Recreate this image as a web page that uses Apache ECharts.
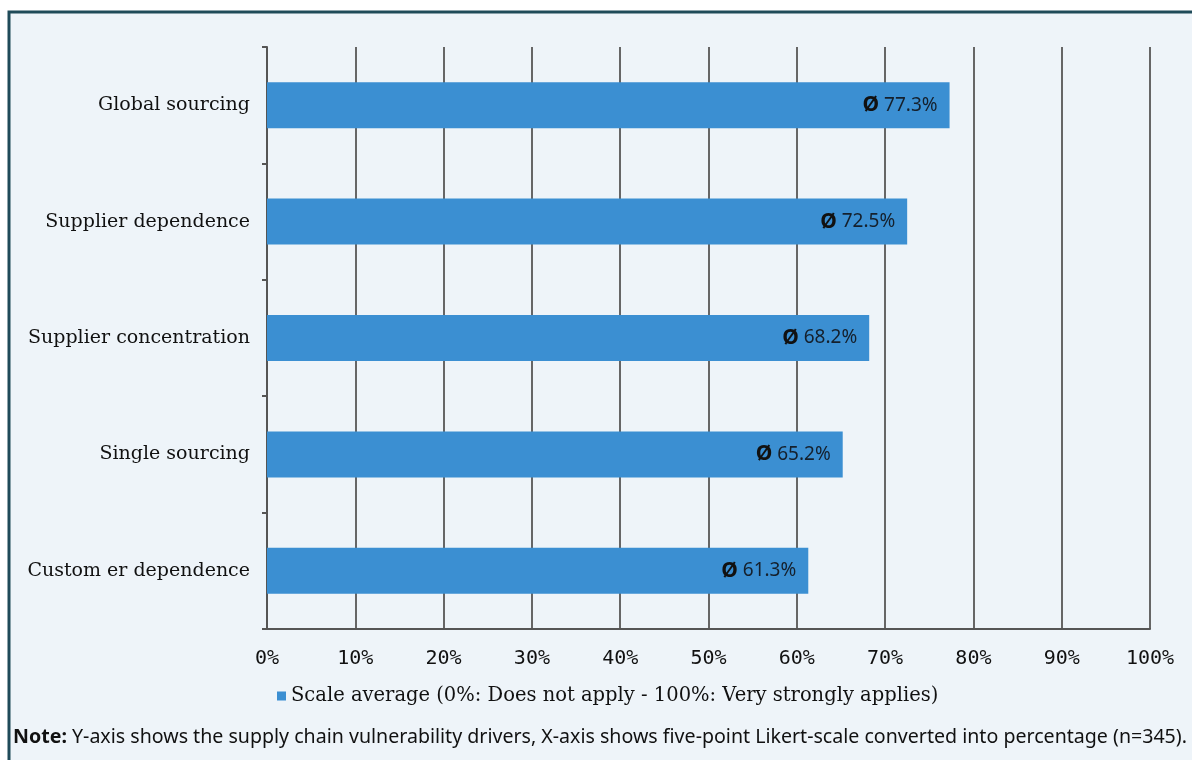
<!DOCTYPE html>
<html>
<head>
<meta charset="utf-8">
<script src="https://cdn.jsdelivr.net/npm/echarts@6/dist/echarts.min.js"></script>
<style>
  html, body { margin: 0; padding: 0; background: #ffffff; }
  #chart { width: 1192px; height: 760px; }
</style>
</head>
<body>
<div id="chart"></div>
<script>
// categories, top to bottom
var drivers = ['Global sourcing', 'Supplier dependence', 'Supplier concentration', 'Single sourcing', 'Custom er dependence'];
var scaleAverage = [77.3, 72.5, 68.2, 65.2, 61.3];
var xTicks = [0, 10, 20, 30, 40, 50, 60, 70, 80, 90, 100];
var legendName = 'Scale average (0%: Does not apply - 100%: Very strongly applies)';
var noteText = 'Y-axis shows the supply chain vulnerability drivers, X-axis shows five-point Likert-scale converted into percentage (n=345).';

var chart = echarts.init(document.getElementById('chart'));

chart.setOption({
  backgroundColor: '#ffffff',
  animation: false,
  graphic: [
    {
      // panel box with dark frame
      type: 'rect',
      z: -10,
      silent: true,
      shape: { x: 9, y: 12, width: 1195, height: 760 },
      style: { fill: '#eef4f9', stroke: '#1f4b59', lineWidth: 3 }
    },
    {
      type: 'text',
      left: 13,
      top: 727,
      style: {
        text: '{b|Note:} ' + noteText,
        rich: {
          b: { fontWeight: 'bold', fontFamily: 'Noto Sans', fontSize: 19.6, fill: '#111' }
        },
        fontFamily: 'Noto Sans',
        fontSize: 19.6,
        fill: '#111'
      }
    }
  ],
  legend: {
    data: [legendName],
    left: 272,
    top: 681,
    icon: 'rect',
    itemWidth: 9,
    itemHeight: 9,
    itemGap: 4,
    textStyle: { fontFamily: 'DejaVu Serif', fontSize: 19.5, color: '#111' }
  },
  grid: {
    left: 267,
    right: 42,
    top: 47,
    bottom: 131
  },
  xAxis: {
    type: 'value',
    min: xTicks[0],
    max: xTicks[xTicks.length - 1],
    interval: 10,
    axisLine: { show: true, lineStyle: { color: '#555', width: 2 } },
    axisTick: { show: false },
    axisLabel: {
      margin: 20,
      fontFamily: 'DejaVu Sans Mono',
      fontSize: 20,
      color: '#111',
      formatter: function (v) { return v + '%'; }
    },
    splitLine: { show: true, lineStyle: { color: '#666', width: 2 } }
  },
  yAxis: {
    type: 'category',
    inverse: true,
    data: drivers,
    axisLine: { show: true, lineStyle: { color: '#555', width: 2 } },
    axisTick: { show: true, length: 5, lineStyle: { color: '#555', width: 2 } },
    axisLabel: {
      margin: 17,
      fontFamily: 'DejaVu Serif',
      fontSize: 19,
      color: '#111'
    }
  },
  series: [
    {
      name: legendName,
      type: 'bar',
      data: scaleAverage,
      barWidth: 46,
      itemStyle: { color: '#3b8fd2' },
      label: {
        show: true,
        position: 'insideRight',
        distance: 12,
        formatter: function (p) { return '{o|Ø} ' + p.value.toFixed(1) + '%'; },
        fontFamily: 'Noto Sans',
        fontSize: 19,
        color: '#15202c',
        rich: {
          o: { fontFamily: 'Noto Sans', fontWeight: 'bold', fontSize: 21, color: '#111' }
        }
      }
    }
  ]
});
</script>
</body>
</html>
